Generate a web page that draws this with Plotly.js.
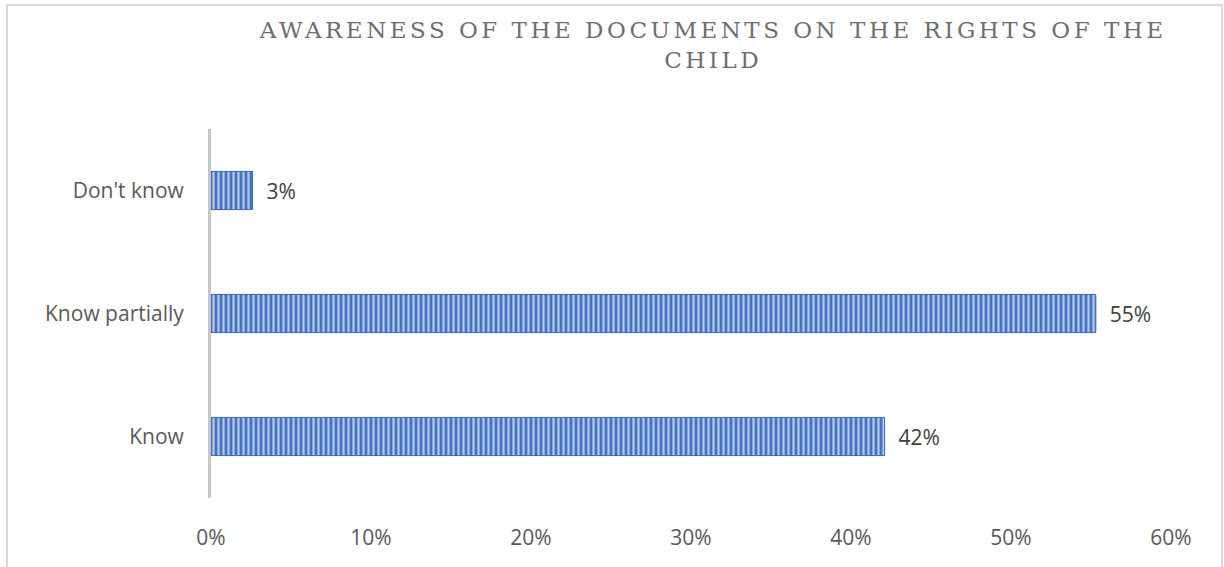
<!DOCTYPE html>
<html>
<head>
<meta charset="utf-8">
<script src="https://cdn.plot.ly/plotly-3.0.1.min.js"></script>
<style>html,body{margin:0;padding:0;background:#fff;}#chart{width:1224px;height:567px;}</style>
</head>
<body>
<div id="chart"></div>
<script>
const categories = ["Know", "Know partially", "Don't know"];
const values = [0.421, 0.553, 0.026];
const tickValues = [0, 0.1, 0.2, 0.3, 0.4, 0.5, 0.6];
const tickLabels = ["0%", "10%", "20%", "30%", "40%", "50%", "60%"];
const titleText = "AWARENESS OF THE DOCUMENTS ON THE RIGHTS OF THE<br>CHILD";

const NBSP = '\u00a0';
const trace = {
  type: 'bar',
  orientation: 'h',
  y: categories,
  x: values,
  text: values.map(v => NBSP + NBSP + Math.round(v * 100) + '%'),
  textposition: 'outside',
  cliponaxis: false,
  textfont: {family: 'Open Sans, sans-serif', size: 21, color: '#404040'},
  marker: {
    color: '#4472c4',
    line: {color: '#3a66b8', width: 1},
    pattern: {shape: '|', fgcolor: '#b4c7ea', bgcolor: '#4472c4', size: 5, solidity: 0.45}
  },
  hoverinfo: 'skip'
};

const layout = {
  width: 1224, height: 567,
  margin: {l: 211, r: 53, t: 129, b: 69},
  paper_bgcolor: '#ffffff', plot_bgcolor: '#ffffff',
  showlegend: false,
  bargap: 0.69,
  annotations: [{
    text: titleText,
    xref: 'paper', yref: 'paper',
    x: 0.522, xanchor: 'center',
    y: 1.31, yanchor: 'top',
    showarrow: false,
    align: 'center',
    font: {family: 'DejaVu Serif, serif', size: 23, color: '#6e6e6e'}
  }],
  xaxis: {
    range: [0, 0.6],
    tickvals: tickValues, ticktext: tickLabels,
    showgrid: false, zeroline: false, showline: false,
    ticks: '', ticklabelstandoff: 25,
    tickfont: {family: 'Open Sans, sans-serif', size: 21, color: '#595959'},
    fixedrange: true
  },
  yaxis: {
    showgrid: false, zeroline: false,
    showline: true, linecolor: '#c6c6c6', linewidth: 3,
    ticks: '', ticklabelstandoff: 20,
    tickfont: {family: 'Open Sans, sans-serif', size: 21, color: '#595959'},
    fixedrange: true
  },
  shapes: [
    {type: 'path', xref: 'paper', yref: 'paper',
     path: 'M -0.2125,-0.3 L -0.2125,1.336 L 1.0531,1.336 L 1.0531,-0.3',
     line: {color: '#d9d9d9', width: 2}, layer: 'below'}
  ]
};

Plotly.newPlot('chart', [trace], layout, {displayModeBar: false, staticPlot: true}).then(() => {
  document.querySelectorAll('.annotation-text').forEach(el => { el.style.letterSpacing = '3.5px'; });
});
</script>
</body>
</html>
